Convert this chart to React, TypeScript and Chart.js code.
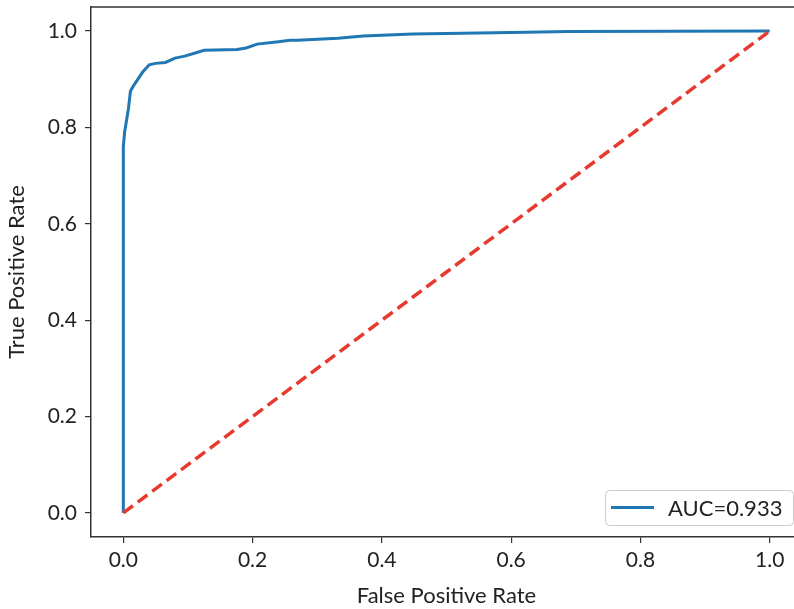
import React, { useEffect, useRef } from "react";
import { Chart, registerables } from "chart.js";

Chart.register(...registerables);

const FPR = [0, 0, 0.002, 0.005, 0.008, 0.011, 0.015, 0.02, 0.025, 0.03, 0.04, 0.05, 0.065, 0.08, 0.095, 0.11, 0.125, 0.176, 0.19, 0.207, 0.24, 0.258, 0.269, 0.332, 0.371, 0.448, 0.6, 0.69, 1.0];
const TPR = [0, 0.76, 0.79, 0.815, 0.84, 0.875, 0.885, 0.895, 0.905, 0.915, 0.93, 0.933, 0.935, 0.944, 0.948, 0.954, 0.96, 0.962, 0.965, 0.973, 0.978, 0.981, 0.981, 0.985, 0.99, 0.994, 0.997, 0.999, 1.0];
const DIAG_X = [0, 1];
const DIAG_Y = [0, 1];
const TICKS = [0, 0.2, 0.4, 0.6, 0.8, 1.0];
const ROC_LABEL = "AUC=0.933";
const X_TITLE = "False Positive Rate";
const Y_TITLE = "True Positive Rate";

const FONT = "Lato";
const INK = "#222222";
const SPINE = "#333333";
const BLUE = "#1f77b4";
const RED = "#e8392f";

const framePlugin = {
  id: "frame",
  afterDatasetsDraw(chart: any) {
    const { ctx, chartArea } = chart;
    ctx.save();
    ctx.strokeStyle = SPINE;
    ctx.lineWidth = 1.5;
    ctx.beginPath();
    ctx.moveTo(chartArea.left, chartArea.top);
    ctx.lineTo(chartArea.right, chartArea.top);
    ctx.lineTo(chartArea.right, chartArea.bottom);
    ctx.stroke();
    ctx.restore();
  },
};

const legendPlugin = {
  id: "mplLegend",
  afterDraw(chart: any) {
    const { ctx, chartArea } = chart;
    const ds = chart.data.datasets[1];
    const right = chartArea.right - 9;
    const bottom = chartArea.bottom - 12;
    const w = 188;
    const h = 35;
    const left = right - w;
    const top = bottom - h;
    ctx.save();
    ctx.fillStyle = "rgba(255,255,255,0.85)";
    ctx.strokeStyle = "#cccccc";
    ctx.lineWidth = 1;
    ctx.beginPath();
    ctx.roundRect(left + 0.5, top + 0.5, w, h, 4);
    ctx.fill();
    ctx.stroke();
    const cy = top + h / 2;
    ctx.strokeStyle = ds.borderColor;
    ctx.lineWidth = 3;
    ctx.beginPath();
    ctx.moveTo(left + 6, cy);
    ctx.lineTo(left + 49, cy);
    ctx.stroke();
    ctx.fillStyle = INK;
    ctx.font = `22px ${FONT}`;
    ctx.textBaseline = "middle";
    ctx.textAlign = "left";
    ctx.fillText(ds.label, left + 63, cy + 1);
    ctx.restore();
  },
};

const zeroPad = (s: any) => {
  s.paddingTop = 0;
  s.paddingBottom = 0;
  s.paddingLeft = 0;
  s.paddingRight = 0;
};

export default function App() {
  const ref = useRef<HTMLCanvasElement | null>(null);

  useEffect(() => {
    if (!ref.current) return;
    const roc = FPR.map((x, i) => ({ x, y: TPR[i] }));
    const diag = DIAG_X.map((x, i) => ({ x, y: DIAG_Y[i] }));
    const setTicks = (scale: any) => {
      scale.ticks = TICKS.map((v) => ({ value: v }));
    };
    const chart = new Chart(ref.current, {
      type: "scatter",
      data: {
        datasets: [
          {
            label: "diag",
            data: diag,
            showLine: true,
            borderColor: RED,
            borderWidth: 3.5,
            borderDash: [12, 6],
            pointRadius: 0,
            order: 0,
          },
          {
            label: ROC_LABEL,
            data: roc,
            showLine: true,
            borderColor: BLUE,
            borderWidth: 3,
            pointRadius: 0,
            order: 1,
          },
        ],
      },
      options: {
        animation: false,
        responsive: false,
        layout: { padding: { top: 7, right: 8, left: 0, bottom: 0 } },
        plugins: { legend: { display: false }, tooltip: { enabled: false } },
        scales: {
          x: {
            type: "linear",
            min: -0.05,
            max: 1.05,
            afterBuildTicks: setTicks,
            afterFit: (s: any) => {
              s.height = 72;
              zeroPad(s);
            },
            grid: { display: true, drawOnChartArea: false, drawTicks: true, tickLength: 6, color: SPINE, lineWidth: 1.2 },
            border: { display: true, color: SPINE, width: 1.5 },
            ticks: {
              color: INK,
              padding: 5,
              maxRotation: 0,
              font: { family: FONT, size: 21 },
              callback: (v: any) => Number(v).toFixed(1),
            },
            title: {
              display: true,
              text: X_TITLE,
              color: INK,
              font: { family: FONT, size: 22 },
              padding: { top: 0, bottom: 0 },
            },
          },
          y: {
            type: "linear",
            min: -0.05,
            max: 1.05,
            afterBuildTicks: setTicks,
            afterFit: (s: any) => {
              s.width = 91;
              zeroPad(s);
            },
            grid: { display: true, drawOnChartArea: false, drawTicks: true, tickLength: 6, color: SPINE, lineWidth: 1.2 },
            border: { display: true, color: SPINE, width: 1.5 },
            ticks: {
              color: INK,
              padding: 8,
              font: { family: FONT, size: 21 },
              callback: (v: any) => Number(v).toFixed(1),
            },
            title: {
              display: true,
              text: Y_TITLE,
              color: INK,
              font: { family: FONT, size: 22 },
              padding: { top: 4, bottom: 0 },
            },
          },
        },
      },
      plugins: [framePlugin, legendPlugin],
    });
    return () => chart.destroy();
  }, []);

  return (
    <div style={{ position: "fixed", left: 0, top: 0, width: 794, height: 609, overflow: "hidden", background: "#fff" }}>
      <canvas ref={ref} width={810} height={609} style={{ display: "block" }} />
    </div>
  );
}
